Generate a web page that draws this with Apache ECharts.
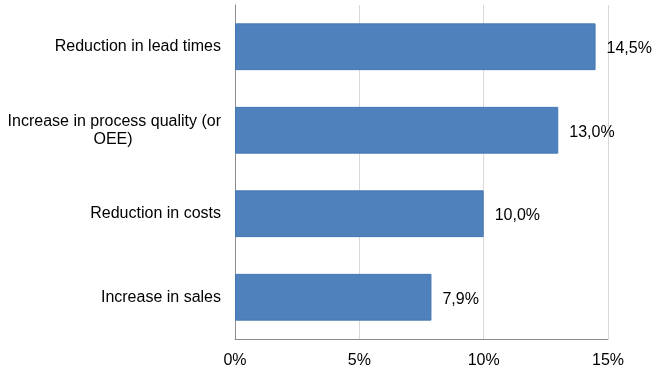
<!DOCTYPE html>
<html>
<head>
<meta charset="utf-8">
<script src="https://cdn.jsdelivr.net/npm/echarts@6/dist/echarts.min.js"></script>
<style>
html,body{margin:0;padding:0;background:#fff;}
#chart{width:656px;height:369px;}
</style>
</head>
<body>
<div id="chart"></div>
<script>
var categories = ['Reduction in lead times', 'Increase in process quality (or OEE)', 'Reduction in costs', 'Increase in sales'];
var values = [14.5, 13.0, 10.0, 7.9];
var xTicks = [0, 5, 10, 15];

var chart = echarts.init(document.getElementById('chart'));
var font = 'Liberation Sans, Arial, sans-serif';
chart.setOption({
  animation: false,
  grid: {left: 235, right: 48, top: 5, bottom: 30, containLabel: false},
  xAxis: {
    type: 'value',
    min: xTicks[0],
    max: xTicks[xTicks.length - 1],
    interval: xTicks[1] - xTicks[0],
    axisLine: {show: true, lineStyle: {color: '#8c8c8c', width: 1}},
    axisTick: {show: false},
    splitLine: {show: true, lineStyle: {color: '#d9d9d9', width: 1}},
    axisLabel: {
      formatter: function (v) { return v + '%'; },
      color: '#000', fontSize: 16, fontFamily: font, margin: 14
    }
  },
  yAxis: {
    type: 'category',
    data: categories,
    inverse: true,
    axisLine: {show: true, lineStyle: {color: '#8c8c8c', width: 1}},
    axisTick: {show: false},
    splitLine: {show: false},
    axisLabel: {
      color: '#000', fontSize: 16, fontFamily: font, margin: 14, lineHeight: 18,
      formatter: function (v) {
        if (v.length > 30) {
          var idx = v.lastIndexOf(' ', 31);
          return '{a|' + v.slice(0, idx) + '}\n{b|' + v.slice(idx + 1) + '}';
        }
        return v;
      },
      rich: {
        a: {color: '#000', fontSize: 16, fontFamily: font, lineHeight: 18},
        b: {color: '#000', fontSize: 16, fontFamily: font, lineHeight: 18, width: 216, align: 'center'}
      }
    }
  },
  series: [{
    type: 'bar',
    data: values,
    barCategoryGap: '44%',
    itemStyle: {color: '#4f81bd', borderColor: '#4677b3', borderWidth: 1},
    label: {
      show: true, position: 'right', distance: 11, offset: [0, 2],
      color: '#000', fontSize: 16, fontFamily: font,
      formatter: function (p) { return p.value.toFixed(1).replace('.', ',') + '%'; }
    }
  }]
});
</script>
</body>
</html>
